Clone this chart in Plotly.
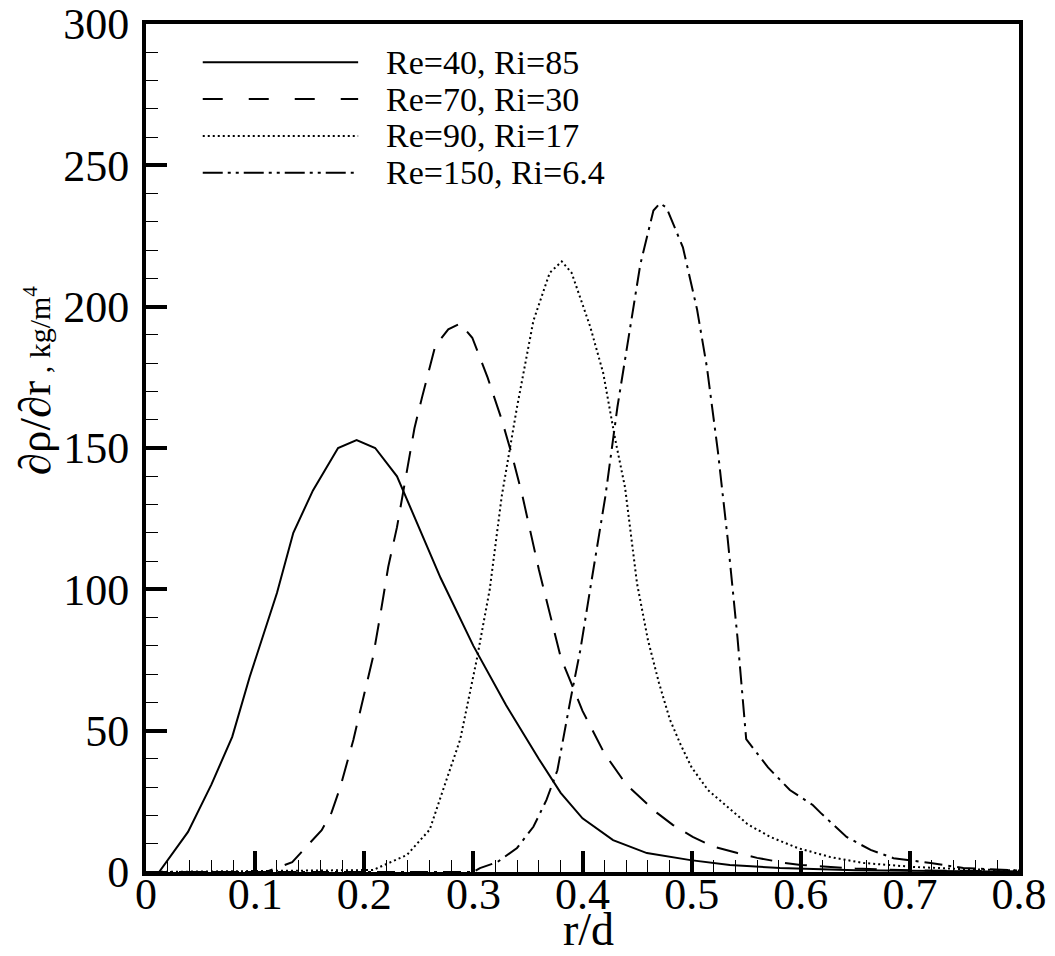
import plotly.graph_objects as go

# ---- data ----
solid_x = [0.0, 0.012, 0.0385, 0.06, 0.079, 0.095, 0.12, 0.135, 0.153, 0.176, 0.193, 0.21, 0.23, 0.249, 0.27,
           0.3, 0.33, 0.36, 0.38, 0.4, 0.428, 0.459, 0.499, 0.535, 0.581, 0.65, 0.8]
solid_y = [0, 0, 14.2, 31, 47.8, 69, 98.7, 120, 135, 150, 152.8, 150, 140, 123, 104,
           80, 59, 40, 28, 19, 11.3, 6.7, 4.2, 2.5, 1.4, 0.6, 0.1]

dashed_x = [0.0, 0.11, 0.134, 0.147, 0.161, 0.17, 0.178, 0.19, 0.199, 0.208, 0.215, 0.222, 0.23, 0.237, 0.246, 0.253,
            0.265, 0.277, 0.288, 0.299, 0.313, 0.326, 0.335, 0.345, 0.36, 0.38, 0.4, 0.42, 0.44, 0.468, 0.483,
            0.501, 0.52, 0.542, 0.56, 0.584, 0.6, 0.65, 0.7, 0.8]
dashed_y = [0, 0, 3.5, 8.8, 14.8, 21, 30, 46.7, 61, 76, 91.6, 108, 122, 137.6, 157, 168,
            186, 192, 194, 189, 175, 160, 148, 133, 107, 76, 57, 42, 31, 21, 16.6,
            12.4, 9, 6.7, 5, 3.3, 2.5, 1.2, 0.6, 0.2]

dotted_x = [0.0, 0.208, 0.239, 0.26, 0.27, 0.288, 0.303, 0.315, 0.326, 0.34, 0.355, 0.37, 0.381, 0.39, 0.407,
            0.419, 0.43, 0.439, 0.45, 0.46, 0.47, 0.48, 0.49, 0.5, 0.515, 0.529, 0.551, 0.572, 0.597, 0.627,
            0.657, 0.703, 0.75, 0.8]
dotted_y = [0, 0.7, 6, 15, 26.5, 47, 75, 100, 133, 164.5, 195, 212, 216, 212, 193,
            176.5, 153, 136, 102, 82, 67, 54, 45, 37, 29, 24.4, 17, 12.4, 8.5, 5.3,
            3.2, 1.8, 1.0, 0.5]

dashdot_x = [0.0, 0.3, 0.306, 0.322, 0.34, 0.355, 0.367, 0.377, 0.389, 0.398, 0.407, 0.421, 0.432, 0.442, 0.453,
             0.465, 0.471, 0.477, 0.492, 0.505, 0.514, 0.524, 0.533, 0.542, 0.55, 0.57, 0.59, 0.611, 0.618,
             0.642, 0.664, 0.685, 0.719, 0.749, 0.8]
dashdot_y = [0, 0, 1.4, 3.5, 8.5, 16, 25.5, 36, 61, 78.5, 100, 133, 164.5, 188, 215,
             234, 236.6, 235, 221, 199, 178.6, 149, 118, 83, 47, 37, 29, 23.7, 21,
             12.4, 7.8, 4.9, 3.2, 1.4, 0.5]

series_names = ["Re=40, Ri=85", "Re=70, Ri=30", "Re=90, Ri=17", "Re=150, Ri=6.4"]
x_ticks = [0, 0.1, 0.2, 0.3, 0.4, 0.5, 0.6, 0.7, 0.8]
y_ticks = [0, 50, 100, 150, 200, 250, 300]

FONT = "Liberation Serif"
curve_dash = ["solid", "22px,13px", "2px,3px", "18px,6px,3px,6px"]
legend_dash = ["solid", "20px,26px", "2px,3px", "20px,5px,3px,5px,3px,5px"]
series = [(solid_x, solid_y), (dashed_x, dashed_y), (dotted_x, dotted_y), (dashdot_x, dashdot_y)]

fig = go.Figure()
for (xs, ys), name, dash in zip(series, series_names, curve_dash):
    fig.add_trace(go.Scatter(x=xs, y=ys, mode="lines", name=name,
                             line=dict(color="black", width=2, dash=dash),
                             showlegend=False))

# manual legend (long line samples as in the reference)
leg_top = 0.955
leg_step = 0.0435
for i, (name, dash) in enumerate(zip(series_names, legend_dash)):
    yy = leg_top - i * leg_step
    fig.add_shape(type="line", xref="paper", yref="paper",
                  x0=0.065, x1=0.243, y0=yy, y1=yy,
                  line=dict(color="black", width=2, dash=dash))
    fig.add_annotation(xref="paper", yref="paper", x=0.273, y=yy, text=name,
                       showarrow=False, xanchor="left", yanchor="middle",
                       font=dict(family=FONT, size=34, color="black"))

# axis titles placed as in the reference
fig.add_annotation(xref="paper", yref="paper", x=-0.127, y=0.58, textangle=-90,
                   text='∂ρ/∂r<span style="font-size:30px"> , kg/m<sup>4</sup></span>',
                   showarrow=False, xanchor="center", yanchor="middle",
                   font=dict(family=FONT, size=45, color="black"))
fig.add_annotation(xref="paper", yref="paper", x=0.507, y=-0.068, text="r/d",
                   showarrow=False, xanchor="center", yanchor="middle",
                   font=dict(family=FONT, size=46, color="black"))

axis_common = dict(showline=True, linewidth=4, linecolor="black", mirror=True,
                   ticks="inside", ticklen=21, tickwidth=4, tickcolor="black",
                   showgrid=False, zeroline=False, automargin=False,
                   tickfont=dict(family=FONT, size=44, color="black"))

fig.update_xaxes(range=[0, 0.8], tickvals=x_ticks, ticktext=[f"{v:g}" for v in x_ticks],
                 minor=dict(dtick=0.02, ticks="inside", ticklen=12, tickwidth=1, tickcolor="black"),
                 ticklabelstandoff=-20, **axis_common)
fig.update_yaxes(range=[0, 300], tickvals=y_ticks,
                 minor=dict(dtick=10, ticks="inside", ticklen=12, tickwidth=1, tickcolor="black"),
                 ticklabelstandoff=4, **axis_common)

fig.update_layout(width=1055, height=956, plot_bgcolor="white", paper_bgcolor="white",
                  margin=dict(l=146, r=36, t=24, b=84), showlegend=False)

fig.write_html("out.html", config={"displayModeBar": False},
               post_script="document.body.style.margin='0px';")
